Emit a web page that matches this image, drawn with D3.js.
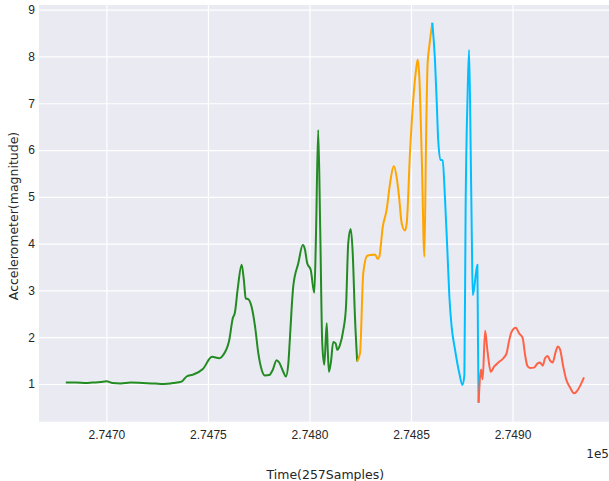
<!DOCTYPE html>
<html lang="en">
<head>
    <meta charset="utf-8">
    <style>
        body {
            margin: 0;
            background: #fff;
        }

        #mainSVG {
            display: block;
            font-family: "DejaVu Sans", sans-serif;
        }

        .grid line {
            stroke: #fff;
            stroke-width: 1.2;
        }

        .tick text {
            fill: #262626;
            font-size: 12px;
        }

        .series {
            fill: none;
            stroke-width: 2;
            stroke-linejoin: round;
        }
    </style>
</head>
<body>
<svg id="mainSVG" width="609" height="481"></svg>
<script src="https://cdn.jsdelivr.net/npm/d3@7"></script>
<script>

    // sample time (x) and accelerometer magnitude (y)
    var greenT = [274680, 274685, 274690, 274693, 274697, 274700, 274703, 274707, 274712, 274718, 274724, 274728, 274733, 274737,
        274739.5, 274742.6, 274747.5, 274752, 274755.6, 274757.5, 274760.5, 274762.2, 274763.3, 274764.6, 274766.6, 274767.7,
        274768.6, 274769.9, 274771.5, 274773.2, 274774.8, 274776.5, 274778.1, 274780.2, 274781.9, 274783.8, 274785.1, 274787.1,
        274788.4, 274789.6, 274790.4, 274792, 274794.5, 274796.7, 274797.8, 274798.9, 274800.6, 274802.4, 274803.2, 274804.3,
        274805.3, 274806.3, 274807.3, 274808.5, 274809, 274809.6, 274810.6, 274811.7, 274812.9, 274813.7, 274815, 274816.7,
        274818, 274819.1, 274820.3, 274821.3, 274822.4, 274823.5];
    var greenV = [1.03, 1.03, 1.02, 1.03, 1.04, 1.06, 1.02, 1.01, 1.03, 1.02, 1.01, 1.0, 1.02, 1.05,
        1.16, 1.20, 1.32, 1.58, 1.55, 1.62, 1.94, 2.4, 2.53, 3.01, 3.55, 3.22,
        2.83, 2.81, 2.65, 2.23, 1.66, 1.3, 1.18, 1.19, 1.3, 1.51, 1.46, 1.26,
        1.16, 1.44, 2.0, 3.08, 3.58, 3.97, 3.87, 3.58, 3.44, 2.95, 4.15, 6.43,
        4.29, 1.87, 1.41, 2.30, 1.73, 1.26, 1.48, 1.9, 1.87, 1.73, 1.83, 2.16,
        2.65, 4.01, 4.31, 3.80, 2.44, 1.48];

    var orangeT = [274823.5, 274824.9, 274826.5, 274828.5, 274831.1, 274832.3, 274833.6, 274834.4, 274836.1, 274838, 274839.7,
        274841.5, 274843, 274844.1, 274845.4, 274847, 274847.9, 274849.5, 274851.1, 274852.5, 274853.3, 274854.1, 274855.3,
        274856.6, 274857.4, 274858.2, 274859, 274860.5];
    var orangeV = [1.48, 1.66, 3.37, 3.74, 3.76, 3.77, 3.67, 3.72, 4.36, 4.72, 5.29,
        5.66, 5.40, 5.01, 4.44, 4.28, 4.44, 5.93, 7.07, 7.72, 7.93, 7.57, 5.86,
        3.72, 6.15, 7.86, 8.21, 8.72];

    var blueT = [274860.5, 274861.8, 274862.7, 274863.4, 274864.6, 274865.6, 274866.7, 274867.9, 274868.9, 274870, 274871.7,
        274873.8, 274875.3, 274876.3, 274876.9, 274877.9, 274878.6, 274879.4, 274880, 274880.4, 274881.2, 274882, 274882.7,
        274883, 274883.3];
    var blueV = [8.72, 7.93, 7.0, 6.22, 5.79, 5.78, 5.01, 3.87, 2.87, 2.23, 1.73,
        1.23, 0.98, 1.19, 4.72, 7.22, 8.14, 6.0, 4.01, 2.90, 3.08, 3.37, 3.55,
        1.87, 0.6];

    var redT = [274883.3, 274884.5, 274885.3, 274886.5, 274887.6, 274889.3, 274890.9, 274893, 274895.5, 274897.1, 274898.4,
        274899.6, 274901.6, 274903.3, 274905, 274906.2, 274907.3, 274908.6, 274910.6, 274912.4, 274913.5, 274914.9, 274916,
        274917.3, 274918.5, 274919.8, 274921.1, 274922.3, 274923.4, 274925, 274926.4, 274928.3, 274930.3, 274931.6, 274933.3,
        274935.2];
    var redV = [0.6, 1.31, 1.1, 2.14, 1.73, 1.26, 1.37, 1.46, 1.55, 1.66, 1.94,
        2.12, 2.2, 2.08, 1.98, 1.62, 1.39, 1.34, 1.35, 1.44, 1.46, 1.39, 1.55,
        1.6, 1.5, 1.46, 1.66, 1.8, 1.74, 1.37, 1.10, 0.93, 0.80, 0.84, 0.96,
        1.14];

    var seriesColors = ["forestgreen", "orange", "deepskyblue", "tomato"];
    var xTicks = [274700, 274750, 274800, 274850, 274900];
    var yTicks = [1, 2, 3, 4, 5, 6, 7, 8, 9];

    var svg = d3.select("svg");
    var margin = { top: 5, left: 39 };
    var plotW = 572.6, plotH = 416.7;

    var x = d3.scaleLinear().domain([274666.8, 274948.8]).range([0, plotW]);
    var y = d3.scaleLinear().domain([0.194, 9.1]).range([plotH, 0]);

    var g = svg.append("g")
        .attr("transform", "translate(" + margin.left + "," + margin.top + ")");

    g.append("rect")
        .attr("width", plotW)
        .attr("height", plotH)
        .attr("fill", "#EAEAF2");

    // grid + tick labels
    var xAxis = g.append("g")
        .attr("class", "grid")
        .attr("transform", "translate(0," + plotH + ")")
        .call(d3.axisBottom(x)
            .tickValues(xTicks)
            .tickSize(-plotH)
            .tickPadding(9)
            .tickFormat(function (d) { return (d / 1e5).toFixed(4); }));
    xAxis.select(".domain").remove();

    var yAxis = g.append("g")
        .attr("class", "grid")
        .call(d3.axisLeft(y)
            .tickValues(yTicks)
            .tickSize(-plotW)
            .tickPadding(4));
    yAxis.select(".domain").remove();

    var line = d3.line()
        .curve(d3.curveMonotoneX)
        .x(function (d) { return x(d[0]); })
        .y(function (d) { return y(d[1]); });

    var allSeries = [[greenT, greenV], [orangeT, orangeV], [blueT, blueV], [redT, redV]];

    g.selectAll(".series")
        .data(allSeries)
        .enter().append("path")
        .attr("class", "series")
        .attr("stroke", function (d, i) { return seriesColors[i]; })
        .attr("d", function (d) { return line(d3.zip(d[0], d[1])); });

    // offset text and labels
    svg.append("text")
        .attr("x", 609)
        .attr("y", 458)
        .attr("text-anchor", "end")
        .attr("fill", "#262626")
        .style("font-size", "12px")
        .text("1e5");

    svg.append("text")
        .attr("x", margin.left + plotW / 2)
        .attr("y", 479)
        .attr("text-anchor", "middle")
        .attr("fill", "#262626")
        .style("font-size", "12.5px")
        .text("Time(257Samples)");

    svg.append("text")
        .attr("transform", "translate(18,216) rotate(-90)")
        .attr("text-anchor", "middle")
        .attr("fill", "#262626")
        .style("font-size", "12.5px")
        .text("Accelerometer(magnitude)");

</script>
</body>
</html>
